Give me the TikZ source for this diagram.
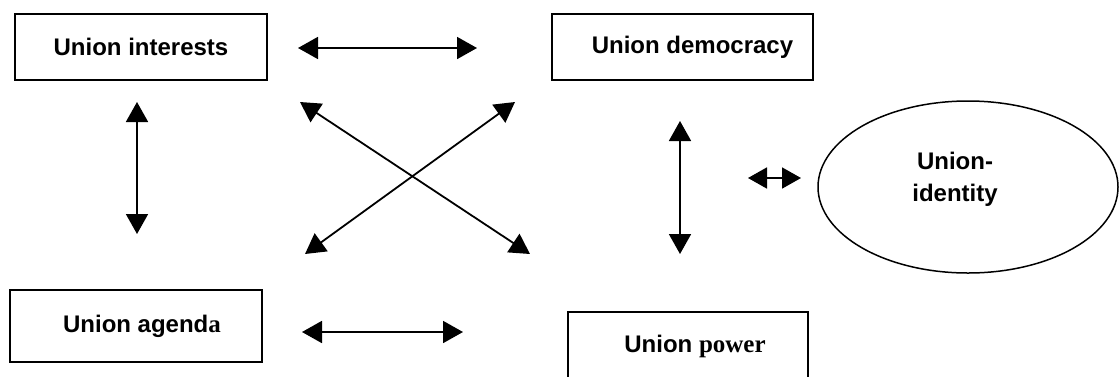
\documentclass[tikz,border=0pt]{standalone}
\usepackage{fontspec}
\setmainfont{Liberation Sans}
\newfontfamily\serifb{Liberation Serif}
\usetikzlibrary{arrows.meta,shapes.geometric}
\tikzset{
  box/.style={draw, line width=0.75pt, rectangle, inner sep=0pt,
    font=\fontsize{12pt}{16pt}\selectfont\bfseries},
  oval/.style={draw, line width=0.75pt, ellipse, inner sep=0pt,
    minimum width=150pt, minimum height=86pt},
  link/.style={line width=0.9pt, {Triangle[length=10pt,width=11pt]}-{Triangle[length=10pt,width=11pt]}},
  smalllink/.style={line width=0.9pt, {Triangle[length=9.5pt,width=10.5pt]}-{Triangle[length=9.5pt,width=10.5pt]}}
}
\begin{document}
\begin{tikzpicture}[x=0.5pt,y=-0.5pt]
\useasboundingbox (0,0) rectangle (1119,376);
\clip (0,0) rectangle (1119,376);

\node[box, minimum width=126pt, minimum height=33pt] (ui) at (141,47) {Union interests};
\node[box, minimum width=130.5pt, minimum height=33pt] (ud) at (682.5,47) {\hspace*{10pt}Union democracy};
\node[box, minimum width=126pt, minimum height=36pt] (ua) at (136,326) {\hspace*{6pt}Union agend{\serifb\fontsize{12.5pt}{16pt}\selectfont a}};
\node[box, minimum width=120pt, minimum height=34pt] (up) at (688,346) {\hspace*{7pt}Union {\serifb\fontsize{12.5pt}{16pt}\selectfont power}};
\node[oval, label={[xshift=-6.5pt, yshift=4pt, align=center, font=\fontsize{12pt}{16pt}\selectfont\bfseries]center:Union-\\identity}] (uid) at (968,187) {};

\coordinate (t1) at (298,48);  \coordinate (t2) at (477,48);
\coordinate (b1) at (302,332); \coordinate (b2) at (463,332);
\coordinate (l1) at (137,102); \coordinate (l2) at (137,234);
\coordinate (c1) at (300,102); \coordinate (c2) at (530,254);
\coordinate (d1) at (305,254); \coordinate (d2) at (515,102);
\coordinate (r1) at (680,121); \coordinate (r2) at (680,254);
\coordinate (s1) at (748,178); \coordinate (s2) at (801,178);

\draw[link] (t1) -- (t2);
\draw[link] (b1) -- (b2);
\draw[link] (l1) -- (l2);
\draw[link] (c1) -- (c2);
\draw[link] (d1) -- (d2);
\draw[link] (r1) -- (r2);
\draw[smalllink] (s1) -- (s2);
\end{tikzpicture}
\end{document}
